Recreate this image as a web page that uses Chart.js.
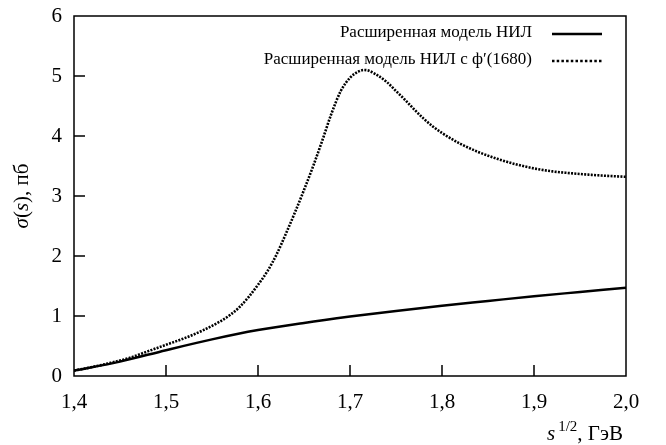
<!DOCTYPE html>
<html><head><meta charset="utf-8">
<script src="https://cdn.jsdelivr.net/npm/chart.js@4"></script>
<style>html,body{margin:0;padding:0;background:#fff}#c{display:block}</style>
</head><body>
<div style="width:666px;height:445px"><canvas id="c" width="666" height="445"></canvas></div>
<script>
const solidX = [1.40,1.45,1.50,1.55,1.60,1.65,1.70,1.75,1.80,1.85,1.90,1.95,2.00];
const solidY = [0.09,0.24,0.43,0.61,0.765,0.885,0.99,1.085,1.17,1.25,1.33,1.40,1.47];
const dotX = [1.40,1.42,1.44,1.46,1.48,1.50,1.52,1.54,1.56,1.57,1.58,1.59,1.60,1.61,1.62,1.63,1.64,1.65,1.66,1.67,1.68,1.69,1.70,1.71,1.715,1.72,1.73,1.74,1.75,1.76,1.77,1.78,1.79,1.80,1.82,1.84,1.86,1.88,1.90,1.92,1.94,1.96,1.98,2.00];
const dotY = [0.09,0.15,0.22,0.30,0.41,0.52,0.63,0.76,0.92,1.02,1.15,1.32,1.52,1.74,2.02,2.36,2.72,3.10,3.50,3.93,4.38,4.75,4.97,5.08,5.10,5.09,5.01,4.90,4.75,4.60,4.44,4.29,4.16,4.05,3.87,3.73,3.62,3.53,3.46,3.41,3.38,3.355,3.335,3.32];
const seriesNames = ["Расширенная модель НИЛ", "Расширенная модель НИЛ с ф′(1680)"];
const xTicks = [1.4,1.5,1.6,1.7,1.8,1.9,2.0];
const yTicks = [0,1,2,3,4,5,6];

const FONT = "'Liberation Serif', 'Times New Roman', serif";

const decor = {
  id: 'decor',
  afterDraw(chart) {
    const ctx = chart.ctx, a = chart.chartArea;
    const xs = chart.scales.x, ys = chart.scales.y;
    ctx.save();
    ctx.setLineDash([]);
    ctx.strokeStyle = '#000';
    ctx.fillStyle = '#000';
    ctx.lineWidth = 1.5;
    ctx.strokeRect(a.left, a.top, a.right - a.left, a.bottom - a.top);
    // inward ticks
    xTicks.forEach(v => {
      if (v <= xs.min + 1e-9 || v >= xs.max - 1e-9) return;
      const px = xs.getPixelForValue(v);
      ctx.fillRect(Math.round(px) - 0.75, a.bottom - 11, 1.5, 11);
    });
    yTicks.forEach(v => {
      if (v <= ys.min + 1e-9 || v >= ys.max - 1e-9) return;
      const py = ys.getPixelForValue(v);
      ctx.fillRect(a.left, Math.round(py) - 0.75, 11, 1.5);
    });

    // legend (text left, sample right)
    ctx.font = "17px " + FONT;
    ctx.textAlign = 'right';
    ctx.textBaseline = 'middle';
    const rows = [33, 60];
    const ds = chart.data.datasets;
    const dashes = [[], [2.5, 2.2]];
    rows.forEach((ry, i) => {
      ctx.fillText(seriesNames[i], 532, ry);
      ctx.beginPath();
      ctx.lineWidth = ds[i].borderWidth;
      ctx.setLineDash(dashes[i]);
      ctx.moveTo(552, ry + 1); ctx.lineTo(602, ry + 1);
      ctx.stroke();
      ctx.setLineDash([]);
    });

    // x axis title: s^{1/2}, ГэВ
    ctx.textAlign = 'left';
    ctx.textBaseline = 'alphabetic';
    const parts = [
      {t: 's', f: "italic 21px " + FONT, dy: 0, g: 3},
      {t: '1/2', f: "15px " + FONT, dy: -9, g: 0},
      {t: ', ГэВ', f: "21px " + FONT, dy: 0, g: 0}
    ];
    let total = 0;
    parts.forEach(p => { ctx.font = p.f; p.w = ctx.measureText(p.t).width; total += p.w + p.g; });
    let x = 623 - total;
    parts.forEach(p => { ctx.font = p.f; ctx.fillText(p.t, x, 440 + p.dy); x += p.w + p.g; });

    // y axis title: σ(s), пб
    ctx.translate(28, 196);
    ctx.rotate(-Math.PI / 2);
    const yp = [
      {t: 'σ', f: "italic 21px " + FONT},
      {t: '(', f: "21px " + FONT},
      {t: 's', f: "italic 21px " + FONT},
      {t: '), пб', f: "21px " + FONT}
    ];
    let tw = 0;
    yp.forEach(p => { ctx.font = p.f; p.w = ctx.measureText(p.t).width; tw += p.w; });
    let yx = -tw / 2;
    yp.forEach(p => { ctx.font = p.f; ctx.fillText(p.t, yx, 0); yx += p.w; });
    ctx.restore();
  }
};

new Chart(document.getElementById('c'), {
  type: 'line',
  data: {
    datasets: [
      {
        label: seriesNames[0],
        data: solidX.map((x, i) => ({x: x, y: solidY[i]})),
        borderColor: '#000', borderWidth: 2.5, pointRadius: 0,
        cubicInterpolationMode: 'monotone', fill: false
      },
      {
        label: seriesNames[1],
        data: dotX.map((x, i) => ({x: x, y: dotY[i]})),
        borderColor: '#000', borderWidth: 2.6, borderDash: [2, 1.3], pointRadius: 0,
        cubicInterpolationMode: 'monotone', fill: false
      }
    ]
  },
  options: {
    responsive: false,
    animation: false,
    devicePixelRatio: 1,
    layout: {padding: {left: 0, right: 40, top: 16, bottom: 0}},
    plugins: {legend: {display: false}, tooltip: {enabled: false}},
    scales: {
      x: {
        type: 'linear', min: 1.4, max: 2.0,
        afterBuildTicks: s => { s.ticks = xTicks.map(v => ({value: v})); },
        afterFit: s => { s.height = 69; s.paddingLeft = 0; s.paddingRight = 0; },
        grid: {display: false, drawTicks: false},
        border: {display: false},
        ticks: {
          color: '#000', padding: 14, maxRotation: 0,
          font: {family: FONT, size: 21},
          callback: v => v.toFixed(1).replace('.', ',')
        }
      },
      y: {
        type: 'linear', min: 0, max: 6,
        afterBuildTicks: s => { s.ticks = yTicks.map(v => ({value: v})); },
        afterFit: s => { s.width = 74; s.paddingTop = 0; s.paddingBottom = 0; },
        grid: {display: false, drawTicks: false},
        border: {display: false},
        ticks: {
          color: '#000', padding: 12,
          font: {family: FONT, size: 21},
          callback: v => String(v)
        }
      }
    }
  },
  plugins: [decor]
});
</script>
</body></html>
